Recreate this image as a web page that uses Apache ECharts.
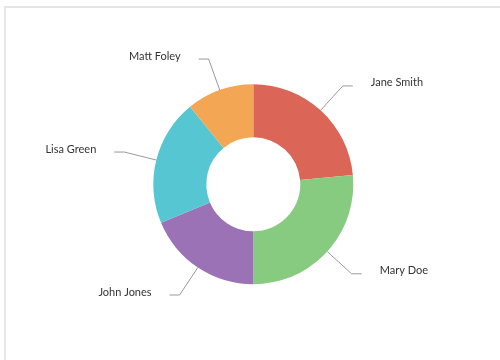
<!DOCTYPE html>
<html>
<head>
<meta charset="utf-8">
<script src="https://cdn.jsdelivr.net/npm/echarts@6/dist/echarts.min.js"></script>
<style>
html,body{margin:0;padding:0;background:#fff;overflow:hidden;}
#frame{position:absolute;left:4px;top:6px;width:520px;height:380px;border-left:2px solid #e6e6e6;border-top:2px solid #e6e6e6;}
#chart{position:absolute;left:0;top:0;width:500px;height:360px;}
</style>
</head>
<body>
<div id="frame"></div>
<div id="chart"></div>
<script>
const names = ['Jane Smith', 'Mary Doe', 'John Jones', 'Lisa Green', 'Matt Foley'];
const values = [23.5, 26.5, 18.7, 20.4, 10.9];
const colors = ['#db6658', '#87cb80', '#9b72b5', '#57c6d3', '#f3a654'];

const chart = echarts.init(document.getElementById('chart'), null, {renderer: 'canvas'});
chart.setOption({
  animation: false,
  series: [{
    type: 'pie',
    center: [253.3, 184.3],
    radius: [47, 100],
    startAngle: 90,
    clockwise: true,
    avoidLabelOverlap: false,
    data: names.map((n, i) => ({name: n, value: values[i], itemStyle: {color: colors[i]}})),
    label: {
      show: true,
      formatter: '{t|{b}}\n{s|}',
      fontFamily: 'Lato',
      fontSize: 11,
      color: '#333',
      rich: {
        t: {fontFamily: 'Lato', fontSize: 11, color: '#333', lineHeight: 13},
        s: {fontSize: 1, lineHeight: 6, height: 6}
      },
      distanceToLabelLine: 18
    },
    labelLine: {
      show: true,
      length: 33,
      length2: 10,
      smooth: false,
      lineStyle: {color: '#999', width: 1}
    },
    emphasis: {disabled: true}
  }]
});
</script>
</body>
</html>
